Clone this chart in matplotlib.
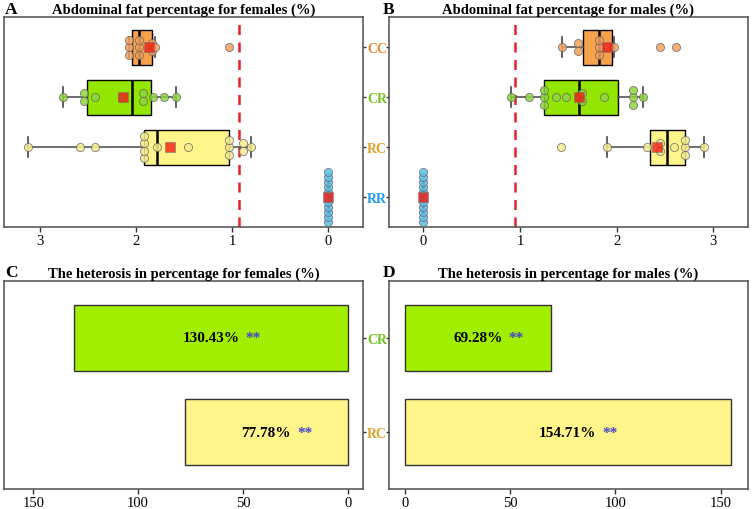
import numpy as np
import matplotlib
matplotlib.use('Agg')
import matplotlib.pyplot as plt

plt.rcParams['font.family'] = ['Liberation Serif', 'DejaVu Serif']

# groups from bottom to top
groups = ['RR', 'RC', 'CR', 'CC']
group_colors = {'RR': '#6CC6EE', 'RC': '#FFF58A', 'CR': '#92E600', 'CC': '#F9A24C'}
dot_colors = {'RR': '#5EC0EC', 'RC': '#F6EC8C', 'CR': '#8ED43C', 'CC': '#F5A05C'}
label_colors = {'RR': '#1E9AEE', 'RC': '#DDA42A', 'CR': '#74C41E', 'CC': '#F08A32'}

# abdominal fat percentage, females
fem_rr = [0.0] * 11
fem_rc = [3.12, 2.585, 2.42, 1.92, 1.92, 1.92, 1.92, 1.78, 1.46, 1.03, 1.03, 1.03, 0.89, 0.89, 0.80]
fem_cr = [2.76, 2.54, 2.54, 2.42, 2.14, 1.93, 1.93, 1.82, 1.71, 1.58]
fem_cc = [2.07, 2.07, 2.07, 1.97, 1.97, 1.97, 1.835, 1.835, 1.80, 1.03]

# abdominal fat percentage, males
mal_rr = [0.0] * 11
mal_rc = [1.43, 1.90, 2.31, 2.45, 2.45, 2.59, 2.71, 2.71, 2.71, 2.90]
mal_cr = [0.91, 1.09, 1.25, 1.25, 1.25, 1.37, 1.48, 1.61, 1.645, 1.645, 1.865, 2.165, 2.165, 2.165, 2.27]
mal_cc = [1.44, 1.60, 1.60, 1.82, 1.82, 1.82, 1.90, 1.97, 2.45, 2.61]

fem_cutoff = 0.93
mal_cutoff = 0.95

# heterosis (%)
het_groups = ['RC', 'CR']
het_female = [77.78, 130.43]
het_male = [154.71, 69.28]


def stack_offsets(vals, step):
    vals = np.asarray(vals)
    offs = np.zeros(len(vals))
    for v in np.unique(vals):
        idx = np.where(vals == v)[0]
        offs[idx] = (np.arange(len(idx)) - (len(idx) - 1) / 2) * step
    return offs


def draw_box(ax, data, xlim, cutoff):
    pos = np.arange(1, len(groups) + 1)
    bp = ax.boxplot(data, positions=pos, orientation='horizontal', widths=0.7,
                    patch_artist=True, showfliers=False, whis=1.5, capwidths=0.4,
                    boxprops=dict(edgecolor='black', linewidth=1.0),
                    medianprops=dict(color='black', linewidth=1.8),
                    whiskerprops=dict(color='#555555', linewidth=1.2),
                    capprops=dict(color='#444444', linewidth=1.2), zorder=2)
    for patch, g in zip(bp['boxes'], groups):
        patch.set_facecolor(group_colors[g])
    for p, vals, g in zip(pos, data, groups):
        step = 0.1 if g == 'RR' else 0.15
        y = p + stack_offsets(vals, step)
        ax.scatter(vals, y, s=34, color=dot_colors[g], alpha=0.85,
                   edgecolors='#666666', linewidths=0.6, zorder=3)
        ax.scatter([np.mean(vals)], [p], marker='s', s=50, color='#F21E14',
                   alpha=0.8, edgecolors='#777777', linewidths=0.5, zorder=4)
    ax.axvline(cutoff, color='#E8202A', linewidth=1.8, linestyle=(0, (4, 3)), zorder=1)
    ax.set_xlim(*xlim)
    ax.set_ylim(0.4, 4.6)
    ax.set_yticks(pos)
    ax.set_xticks([0, 1, 2, 3])


def draw_bars(ax, vals, xlim):
    pos = np.arange(1, len(het_groups) + 1)
    ax.barh(pos, vals, height=0.7, color=[group_colors[g] if g != 'CR' else '#A2EE00'
                                            for g in het_groups],
            edgecolor='#333333', linewidth=1.0, zorder=2)
    for p, v in zip(pos, vals):
        t = ax.text(v / 2, p, '%.2f%%' % v, ha='center', va='center',
                    fontsize=11, fontweight='bold', color='black', zorder=3)
        ax.annotate('**', xy=(1, 0.5), xycoords=t, xytext=(4.5, 0),
                    textcoords='offset points', va='center', ha='left',
                    fontsize=11, fontweight='bold', color='#4646C8', zorder=3)
    ax.set_xlim(*xlim)
    ax.set_ylim(0.4, 2.6)
    ax.set_yticks(pos)
    ax.set_xticks([0, 50, 100, 150])


fig = plt.figure(figsize=(7.54, 5.10), dpi=100)
axA = fig.add_axes([4 / 754, 1 - 228 / 510, 359 / 754, 210 / 510])
axB = fig.add_axes([389 / 754, 1 - 228 / 510, 359 / 754, 210 / 510])
axC = fig.add_axes([4 / 754, 1 - 490 / 510, 359 / 754, 208 / 510])
axD = fig.add_axes([389 / 754, 1 - 490 / 510, 359 / 754, 208 / 510])

draw_box(axA, [fem_rr, fem_rc, fem_cr, fem_cc], (3.37, -0.36), fem_cutoff)
draw_box(axB, [mal_rr, mal_rc, mal_cr, mal_cc], (-0.355, 3.36), mal_cutoff)
draw_bars(axC, het_female, (164, -7.3))
draw_bars(axD, het_male, (-7.6, 163))

titles = ['Abdominal fat percentage for females (%)', 'Abdominal fat percentage for males (%)',
          'The heterosis in percentage for females (%)', 'The heterosis in percentage for males (%)']
for ax, title in zip([axA, axB, axC, axD], titles):
    ax.set_title(title, fontsize=10.5, fontweight='bold', pad=3)
    for s in ax.spines.values():
        s.set_color('#4D4D4D')
        s.set_linewidth(1.1)
    ax.tick_params(axis='x', length=3.5, width=1.0, color='#333333',
                   labelsize=10.5, pad=1.5)
    ax.tick_params(axis='y', length=2.5, width=1.0, color='#333333', pad=0.5)

# category labels sit between the panels
for ax, labs in [(axA, groups), (axC, het_groups)]:
    ax.yaxis.tick_right()
    ax.set_yticklabels(labs, fontweight='bold', fontsize=10)
    for lab, g in zip(ax.get_yticklabels(), labs):
        lab.set_color(label_colors[g])
for ax in [axB, axD]:
    ax.set_yticklabels([])
    ax.patch.set_visible(False)

for x, y, letter in [(5, 10, 'A'), (383, 10, 'B'), (5, 273, 'C'), (383, 273, 'D')]:
    fig.text(x / 754, 1 - y / 510, letter, fontsize=12.5, fontweight='bold', va='center', ha='left')

fig.savefig('out.png', dpi=100)
